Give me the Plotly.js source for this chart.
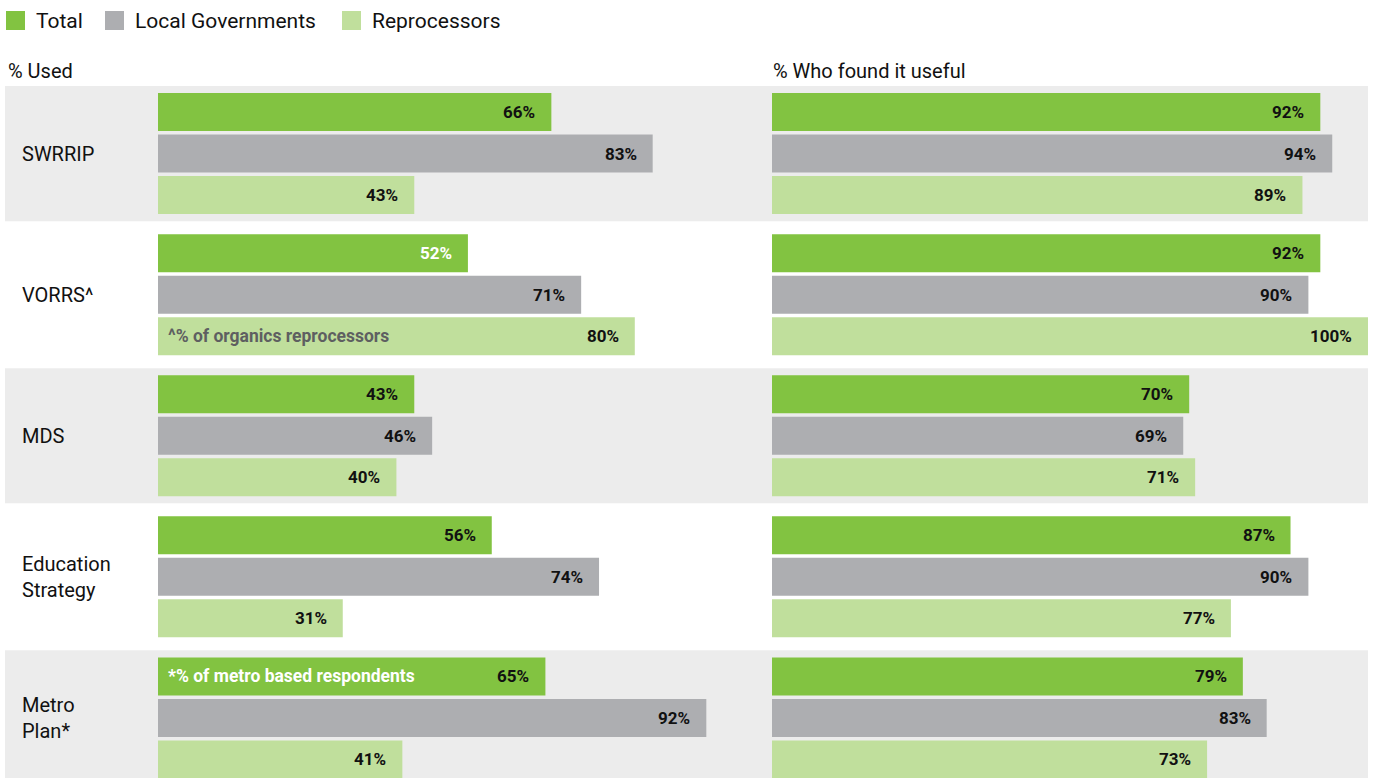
<!DOCTYPE html>
<html>
<head>
<meta charset="utf-8">
<script src="https://cdn.plot.ly/plotly-3.0.1.min.js"></script>
<style>html,body{margin:0;padding:0;background:#fff;}#chart{width:1375px;height:778px;}</style>
</head>
<body>
<div id="chart"></div>
<script>
// ---- data ----
const categories = ["SWRRIP", "VORRS^", "MDS", "Education<br>Strategy", "Metro<br>Plan*"];
const seriesNames = ["Total", "Local Governments", "Reprocessors"];
const seriesColors = ["#82c341", "#adaeb1", "#c0df9c"];
const panelTitles = ["% Used", "% Who found it useful"];

const usedTotal = [66, 52, 43, 56, 65];
const usedLocal = [83, 71, 46, 74, 92];
const usedReproc = [43, 80, 40, 31, 41];

const usefulTotal = [92, 92, 70, 87, 79];
const usefulLocal = [94, 90, 69, 90, 83];
const usefulReproc = [89, 100, 71, 77, 73];

// notes written inside bars: [panel, series, category, text, color]
const barNotes = [
  [0, 2, 1, "^% of organics reprocessors", "#5e5f61"],
  [0, 0, 4, "*% of metro based respondents", "#ffffff"]
];
// value labels drawn in white: [panel, series, category]
const whiteLabels = [[0, 0, 1]];

// ---- build ----
const W = 1375, H = 778, T = 83;
const panels = [[usedTotal, usedLocal, usedReproc], [usefulTotal, usefulLocal, usefulReproc]];
const xaxes = ["x", "x2"];
const FONT = "Roboto, 'Noto Sans', sans-serif";
const catIdx = categories.map((c, i) => i);
const bargap = 0.118;
const slot = (1 - bargap) / 3;

const traces = [];
panels.forEach((series, p) => {
  series.forEach((vals, s) => {
    traces.push({
      type: "bar", orientation: "h",
      x: vals, y: categories,
      name: seriesNames[s],
      marker: {color: seriesColors[s], line: {width: 0}},
      xaxis: xaxes[p], yaxis: "y",
      showlegend: false, hoverinfo: "skip"
    });
  });
});

const annotations = [];
const shapes = [];

// value labels
panels.forEach((series, p) => {
  series.forEach((vals, s) => {
    vals.forEach((v, i) => {
      const white = whiteLabels.some(w => w[0] === p && w[1] === s && w[2] === i);
      annotations.push({
        xref: xaxes[p], yref: "y",
        x: v, y: i + (s - 1) * slot,
        text: "<b>" + v + "%</b>",
        showarrow: false, xanchor: "right", yanchor: "middle",
        xshift: -14,
        font: {family: FONT, size: 17, color: white ? "#ffffff" : "#111111"}
      });
    });
  });
});

// notes inside bars
barNotes.forEach(n => {
  annotations.push({
    xref: xaxes[n[0]], yref: "y",
    x: 0, y: n[2] + (n[1] - 1) * slot,
    text: "<b>" + n[3] + "</b>",
    showarrow: false, xanchor: "left", yanchor: "middle",
    xshift: 8,
    font: {family: FONT, size: 17.5, color: n[4]}
  });
});

// category labels
categories.forEach((c, i) => {
  annotations.push({
    xref: "paper", yref: "y", x: 20 / W, y: i,
    text: c, showarrow: false, xanchor: "left", yanchor: "middle", align: "left",
    font: {family: FONT, size: 20, color: "#111111"}
  });
});

// paper-y helper (paper spans the plot area below the top margin)
const py = px => (H - px) / (H - T);

// panel titles
const titleX = [6, 771];
panelTitles.forEach((t, k) => {
  annotations.push({
    xref: "paper", yref: "paper", x: titleX[k] / W, y: py(71),
    text: t, showarrow: false, xanchor: "left", yanchor: "middle",
    font: {family: FONT, size: 20, color: "#111111"}
  });
});

// legend
const legSq = [6, 105, 342];
seriesNames.forEach((n, s) => {
  shapes.push({
    type: "rect", xref: "paper", yref: "paper",
    x0: legSq[s] / W, x1: (legSq[s] + 19) / W, y0: py(30), y1: py(11),
    fillcolor: seriesColors[s], line: {width: 0}
  });
  annotations.push({
    xref: "paper", yref: "paper", x: (legSq[s] + 28) / W, y: py(21),
    text: n, showarrow: false, xanchor: "left", yanchor: "middle",
    font: {family: FONT, size: 21, color: "#111111"}
  });
});

// alternating background bands
catIdx.forEach(i => {
  if (i % 2 === 0) {
    shapes.push({
      type: "rect", xref: "paper", yref: "y", layer: "below",
      x0: 5 / W, x1: 1368 / W, y0: i - 0.479, y1: i + 0.479,
      fillcolor: "#ececec", line: {width: 0}
    });
  }
});

const hiddenX = (dom) => ({
  domain: dom, range: [0, 100], visible: false, fixedrange: true
});

const layout = {
  width: W, height: H,
  margin: {l: 0, r: 0, t: T, b: 0, pad: 0},
  paper_bgcolor: "#ffffff", plot_bgcolor: "rgba(0,0,0,0)",
  barmode: "group", bargap: bargap, bargroupgap: 0.084,
  showlegend: false,
  xaxis: hiddenX([158 / W, 754 / W]),
  xaxis2: Object.assign(hiddenX([772 / W, 1368 / W]), {anchor: "y"}),
  yaxis: {
    type: "category", categoryorder: "array", categoryarray: categories,
    range: [-0.5 + (H - T) / 141.1, -0.5],
    visible: false, fixedrange: true, automargin: false
  },
  annotations: annotations,
  shapes: shapes,
  font: {family: FONT}
};

Plotly.newPlot("chart", traces, layout, {displayModeBar: false, staticPlot: true});
</script>
</body>
</html>
